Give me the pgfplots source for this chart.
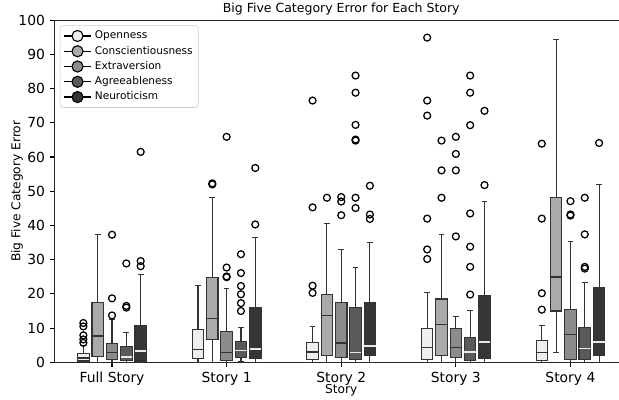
\documentclass[border=0pt]{standalone}
\usepackage{fontspec}
\setmainfont{DejaVu Sans}
\usepackage{pgfplots}
\pgfplotsset{compat=1.18}
\usepgfplotslibrary{statistics}
\definecolor{cA}{HTML}{EEEEEE}
\definecolor{cB}{HTML}{AAAAAA}
\definecolor{cC}{HTML}{8C8C8C}
\definecolor{cD}{HTML}{5A5A5A}
\definecolor{cE}{HTML}{353535}
\definecolor{edge}{HTML}{333333}
\definecolor{mdark}{HTML}{333333}
\definecolor{mlight}{HTML}{E8E8E8}
% position, lower whisker, lower quartile, median, upper quartile, upper whisker, fill, median colour, outliers
\newcommand{\bx}[9]{%
\addplot[forget plot, draw=edge, fill=#7, line width=0.8pt, mark=o, mark size=2.5pt,
  mark options={draw=black, fill=none, line width=0.9pt},
  boxplot prepared={draw position=#1, lower whisker=#2, lower quartile=#3, median=#4,
  upper quartile=#5, upper whisker=#6, box extend=0.1, whisker extend=0.05,
  every median/.style={draw=#8, line width=1pt}}] coordinates {#9};}
\begin{document}
\begin{tikzpicture}
\path[use as bounding box] (-39.4pt,-26.4pt) rectangle (406.3pt,260.9pt);
\clip (-39.4pt,-26.4pt) rectangle (406.3pt,260.9pt);
\begin{axis}[
  at={(0pt,0pt)}, anchor=south west,
  scale only axis, width=412.6pt, height=246.4pt,
  xmin=-0.5, xmax=4.5, ymin=0, ymax=100,
  boxplot/draw direction=y,
  xtick={0,1,2,3,4},
  xticklabels={Full Story,Story 1,Story 2,Story 3,Story 4},
  ytick={0,10,...,100},
  tick align=outside, major tick length=3.5pt,
  xtick pos=left, ytick pos=left,
  tick style={draw=black, line width=0.8pt},
  axis line style={draw=black!85, line width=0.8pt},
  ticklabel style={font=\fontsize{10}{12}\selectfont},
  /pgf/number format/assume math mode=true,
  xlabel={Story}, ylabel={Big Five Category Error},
  label style={font=\fontsize{8.8}{10}\selectfont},
  xlabel shift=-7.5pt, ylabel shift=-10pt,
  title={Big Five Category Error for Each Story},
  title style={font=\fontsize{9}{11}\selectfont, yshift=-6pt},
  legend style={at={(0.009,0.985)}, anchor=north west, draw=black!20, rounded corners=2pt,
    font=\fontsize{7.6}{9}\selectfont, row sep=0pt, inner xsep=2pt, inner ysep=2pt,
    nodes={inner xsep=2pt, inner ysep=1.5pt, text height=6pt, text depth=2pt}},
  legend cell align=left,
  legend image code/.code={\draw[mark repeat=2,mark phase=2] plot coordinates {(0pt,0pt) (10pt,0pt) (20pt,0pt)};},
]
\addlegendimage{black, line width=1pt, mark=*, mark size=4pt, mark options={fill=cA, draw=black, line width=0.8pt}}
\addlegendentry{Openness}
\addlegendimage{black, line width=1pt, mark=*, mark size=4pt, mark options={fill=cB, draw=black, line width=0.8pt}}
\addlegendentry{Conscientiousness}
\addlegendimage{black, line width=1pt, mark=*, mark size=4pt, mark options={fill=cC, draw=black, line width=0.8pt}}
\addlegendentry{Extraversion}
\addlegendimage{black, line width=1pt, mark=*, mark size=4pt, mark options={fill=cD, draw=black, line width=0.8pt}}
\addlegendentry{Agreeableness}
\addlegendimage{black, line width=1pt, mark=*, mark size=4pt, mark options={fill=cE, draw=black, line width=0.8pt}}
\addlegendentry{Neuroticism}
% Full Story
\bx{-0.25}{0}{0.4}{1.3}{2.5}{5.0}{cA}{mdark}{(0,11.5) (0,10.5) (0,7.9) (0,6.7) (0,5.7)}
\bx{-0.125}{0}{1.6}{7.7}{17.6}{37.3}{cB}{mdark}{}
\bx{0}{0}{0.8}{2.8}{5.5}{12.6}{cC}{mdark}{(0,37.3) (0,18.7) (0,13.7)}
\bx{0.125}{0}{0.6}{1.6}{4.7}{8.6}{cD}{mlight}{(0,28.9) (0,16.5) (0,16.0)}
\bx{0.25}{0}{0.4}{3.3}{10.7}{25.6}{cE}{mlight}{(0,61.5) (0,29.6) (0,28.1)}
% Story 1
\bx{0.75}{0}{1.0}{3.8}{9.6}{22.5}{cA}{mdark}{}
\bx{0.875}{0}{6.7}{12.9}{24.8}{48.1}{cB}{mdark}{(0,52.0) (0,52.3)}
\bx{1}{0}{0.6}{2.8}{9.0}{21.5}{cC}{mdark}{(0,65.9) (0,27.7) (0,25.1) (0,24.9)}
\bx{1.125}{0.3}{1.4}{3.5}{6.0}{10.1}{cD}{mlight}{(0,31.6) (0,26.1) (0,22.3) (0,19.9) (0,17.3) (0,15.0)}
\bx{1.25}{0}{1.2}{3.9}{16.0}{36.6}{cE}{mlight}{(0,56.8) (0,40.3)}
% Story 2
\bx{1.75}{0}{0.8}{3.0}{5.9}{10.5}{cA}{mdark}{(0,76.5) (0,45.3) (0,22.4) (0,20.3)}
\bx{1.875}{0}{2.0}{13.7}{19.8}{40.7}{cB}{mdark}{(0,48.1)}
\bx{2}{0}{1.5}{5.6}{17.5}{33.0}{cC}{mdark}{(0,48.3) (0,47.0) (0,43.0)}
\bx{2.125}{0}{0.9}{2.9}{16.1}{27.8}{cD}{mlight}{(0,83.8) (0,78.8) (0,69.4) (0,65.1) (0,64.8) (0,48.1) (0,45.1)}
\bx{2.25}{0}{1.9}{4.8}{17.6}{35.1}{cE}{mlight}{(0,51.6) (0,43.2) (0,41.9)}
% Story 3
\bx{2.75}{0}{0.8}{4.3}{9.8}{20.3}{cA}{mdark}{(0,94.9) (0,76.5) (0,72.1) (0,42.0) (0,33.0) (0,30.2)}
\bx{2.875}{0}{1.9}{11.1}{18.5}{37.3}{cB}{mdark}{(0,64.8) (0,56.1) (0,48.1)}
\bx{3}{0}{1.4}{4.3}{9.8}{13.4}{cC}{mdark}{(0,65.9) (0,60.9) (0,56.1) (0,36.8)}
\bx{3.125}{0}{0.6}{3.0}{7.2}{15.1}{cD}{mlight}{(0,83.8) (0,78.8) (0,69.3) (0,43.5) (0,33.8) (0,27.9) (0,19.8)}
\bx{3.25}{0}{1.2}{6.0}{19.6}{47.1}{cE}{mlight}{(0,73.5) (0,51.8)}
% Story 4
\bx{3.75}{0}{0.6}{2.9}{6.4}{10.8}{cA}{mdark}{(0,63.9) (0,42.0) (0,20.2) (0,15.4)}
\bx{3.875}{2.8}{15.0}{24.9}{48.1}{94.4}{cB}{mdark}{}
\bx{4}{0}{0.8}{8.1}{15.5}{35.4}{cC}{mdark}{(0,47.1) (0,43.2) (0,42.9)}
\bx{4.125}{0}{0.8}{4.0}{10.3}{23.3}{cD}{mlight}{(0,48.1) (0,37.4) (0,27.9) (0,27.4)}
\bx{4.25}{0}{2.0}{5.9}{22.0}{51.9}{cE}{mlight}{(0,64.1)}
\end{axis}
\end{tikzpicture}
\end{document}
